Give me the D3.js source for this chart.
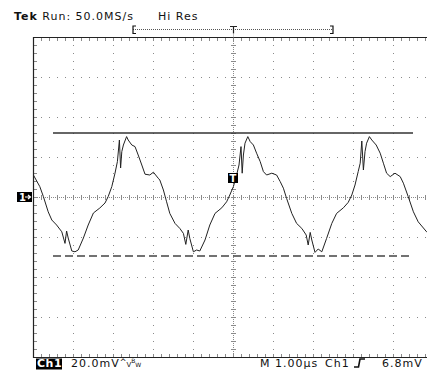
<!DOCTYPE html>
<html><head><meta charset="utf-8">
<script src="https://cdn.jsdelivr.net/npm/d3@7"></script>
<style>
html,body{margin:0;padding:0;background:#fff;}
svg{display:block;}
text{font-family:"DejaVu Sans",sans-serif;}
</style></head>
<body><svg id="c" width="427" height="370"></svg>
<script>
// ---- data (time in µs relative to trigger, voltage in mV) ----
const timeUs = [-4.99,-4.83,-4.74,-4.62,-4.53,-4.41,-4.28,-4.20,-4.16,-4.12,-4.03,-3.95,-3.87,-3.74,-3.62,-3.49,-3.33,-3.20,-3.12,-3.03,-2.95,-2.89,-2.84,-2.81,-2.78,-2.74,-2.66,-2.62,-2.53,-2.45,-2.37,-2.28,-2.20,-2.08,-1.99,-1.87,-1.83,-1.74,-1.66,-1.58,-1.45,-1.33,-1.24,-1.18,-1.12,-1.08,-0.99,-0.91,-0.83,-0.70,-0.58,-0.45,-0.28,-0.16,-0.08,0.01,0.09,0.15,0.20,0.23,0.26,0.30,0.37,0.43,0.51,0.59,0.68,0.76,0.84,0.97,1.09,1.18,1.26,1.34,1.47,1.59,1.72,1.83,1.88,1.93,1.97,2.05,2.13,2.22,2.34,2.47,2.59,2.76,2.88,2.97,3.05,3.13,3.18,3.22,3.26,3.30,3.34,3.41,3.47,3.58,3.68,3.76,3.84,3.93,4.05,4.18,4.26,4.38,4.51,4.63,4.84,5.00];
const traceMv = [11.0,5.2,0.2,-7.4,-11.5,-14.0,-17.4,-23.2,-17.0,-20.5,-27.0,-27.4,-26.5,-20.5,-14.0,-8.0,-5.5,-3.0,0.2,5.2,11.9,17.7,28.5,14.5,22.7,26.0,30.2,28.5,26.0,25.2,21.0,16.0,11.4,11.0,12.4,9.4,8.5,3.5,-2.4,-8.2,-13.2,-15.7,-18.2,-23.7,-16.5,-20.7,-27.4,-26.5,-27.0,-21.5,-14.0,-8.2,-5.4,-2.4,1.0,5.2,11.0,16.0,25.2,11.9,21.0,26.9,30.2,27.7,26.0,21.9,17.7,12.7,11.0,11.9,11.0,7.7,4.4,-0.7,-8.2,-13.2,-15.7,-19.0,-24.0,-17.7,-21.5,-27.7,-26.0,-27.4,-20.7,-13.2,-8.2,-5.4,-2.7,1.0,6.0,12.7,16.9,28.0,13.5,22.7,26.9,30.2,28.5,26.0,21.9,16.9,11.9,10.2,11.9,10.2,6.9,0.2,-7.4,-12.4,-17.4,-19.5];
const cursorLevelsMv = [32.0, -29.5];       // solid, dashed
const cursorSpanUs = [-4.5, 4.5];
const triggerMarkerMv = 9.5;
const recordWindowUs = [-2.5, 2.5];
const timeDomainUs = [-5, 5];
const voltDomainMv = [-80, 80];
const headerTexts = ["Tek", "Run: 50.0MS/s", "Hi Res"];
const footerTexts = ["Ch1", "20.0mV", "M 1.00µs", "Ch1", "6.8mV"];

// ---- layout ----
const svg = d3.select("#c");
const X0 = 33, X1 = 433, Y0 = 37, Y1 = 357;
const x = d3.scaleLinear().domain(timeDomainUs).range([X0, X1]);
const y = d3.scaleLinear().domain(voltDomainMv).range([Y1, Y0]);
const FS = 11, LS = 1;

const gGrid = svg.append("g");
const majorT = d3.range(-5, 5.001, 1);
const majorV = d3.range(-80, 80.001, 20);
const minorT = d3.range(-5, 5.001, 0.2);
const minorV = d3.range(-80, 80.001, 4);
const dotCol = "#8a8a8a";

// dotted interior major grid lines (dots at each minor step)
majorT.filter(t => t > -5 && t < 5 && t !== 0).forEach(t => {
  minorV.forEach(v => gGrid.append("rect").attr("x", Math.round(x(t))).attr("y", Math.round(y(v))).attr("width",1).attr("height",1).attr("fill",dotCol));
});
majorV.filter(v => v > -80 && v < 80 && v !== 0).forEach(v => {
  minorT.forEach(t => gGrid.append("rect").attr("x", Math.round(x(t))).attr("y", Math.round(y(v))).attr("width",1).attr("height",1).attr("fill",dotCol));
});
// center cross: dense dots + minor ticks
const cx = Math.round(x(0)), cy = Math.round(y(0));
for (let py = Y0; py <= Y1; py += 2) gGrid.append("rect").attr("x", cx).attr("y", py).attr("width",1).attr("height",1).attr("fill",dotCol);
for (let px = X0; px <= X1; px += 2) gGrid.append("rect").attr("x", px).attr("y", cy).attr("width",1).attr("height",1).attr("fill",dotCol);
minorV.forEach(v => gGrid.append("rect").attr("x", cx-2).attr("y", Math.round(y(v))).attr("width",5).attr("height",1).attr("fill",dotCol));
minorT.forEach(t => gGrid.append("rect").attr("x", Math.round(x(t))).attr("y", cy-2).attr("width",1).attr("height",5).attr("fill",dotCol));
// border ticks
minorT.forEach(t => {
  gGrid.append("rect").attr("x", Math.round(x(t))).attr("y", Y0+1).attr("width",1).attr("height",3).attr("fill",dotCol);
  gGrid.append("rect").attr("x", Math.round(x(t))).attr("y", Y1-3).attr("width",1).attr("height",3).attr("fill",dotCol);
});
minorV.forEach(v => {
  gGrid.append("rect").attr("x", X0+1).attr("y", Math.round(y(v))).attr("width",3).attr("height",1).attr("fill",dotCol);
});
// border
svg.append("path").attr("d", `M${X1+1},${Y0+0.5}H${X0+0.5}V${Y1+0.5}H${X1+1}`)
  .attr("fill","none").attr("stroke","#222").attr("stroke-width",1.2);

// cursors
svg.append("line").attr("x1", x(cursorSpanUs[0])).attr("x2", x(cursorSpanUs[1]))
  .attr("y1", y(cursorLevelsMv[0])).attr("y2", y(cursorLevelsMv[0]))
  .attr("stroke","#333").attr("stroke-width",1.3);
svg.append("line").attr("x1", x(cursorSpanUs[0])).attr("x2", x(cursorSpanUs[1]))
  .attr("y1", y(cursorLevelsMv[1])).attr("y2", y(cursorLevelsMv[1]))
  .attr("stroke","#444").attr("stroke-width",1.3).attr("stroke-dasharray","8,4");

// trace
const line = d3.line().x((d,i) => x(timeUs[i])).y((d,i) => y(traceMv[i]));
svg.append("defs").append("clipPath").attr("id","clip").append("rect")
  .attr("x", X0).attr("y", Y0).attr("width", X1-X0).attr("height", Y1-Y0);
svg.append("path").datum(traceMv).attr("d", line).attr("clip-path","url(#clip)")
  .attr("fill","none").attr("stroke","#222").attr("stroke-width",1).attr("stroke-linejoin","round");

// trigger marker
const tmx = x(0), tmy = y(triggerMarkerMv);
svg.append("rect").attr("x", tmx-5).attr("y", tmy-5).attr("width",10).attr("height",10).attr("fill","#000");
svg.append("text").attr("x", tmx).attr("y", tmy+4).attr("text-anchor","middle")
  .attr("font-size",10).attr("font-weight","bold").attr("fill","#fff").text("T");

// ground marker "1→"
const gy = y(0);
svg.append("rect").attr("x",17).attr("y",gy-5).attr("width",15).attr("height",10).attr("fill","#000");
svg.append("text").attr("x",19).attr("y",gy+4).attr("font-size",10).attr("font-weight","bold").attr("fill","#fff").text("1");
svg.append("path").attr("d",`M25,${gy}H30M28,${gy-2}L30.5,${gy}L28,${gy+2}`).attr("stroke","#fff").attr("stroke-width",1.2).attr("fill","none");

// record window indicator
const ry = 29.5;
const rx0 = x(recordWindowUs[0]), rx1 = x(recordWindowUs[1]);
svg.append("line").attr("x1", rx0).attr("x2", rx1).attr("y1", ry).attr("y2", ry)
  .attr("stroke","#555").attr("stroke-width",1).attr("stroke-dasharray","1,1");
svg.append("path").attr("d",`M${rx0+3},${ry-3.5}H${rx0}V${ry+4}H${rx0+3}`).attr("stroke","#111").attr("fill","none").attr("stroke-width",1.2);
svg.append("path").attr("d",`M${rx1-3},${ry-3.5}H${rx1}V${ry+4}H${rx1-3}`).attr("stroke","#111").attr("fill","none").attr("stroke-width",1.2);
svg.append("path").attr("d",`M${cx-3},${ry-3}H${cx+4}M${cx+0.5},${ry-3}V${ry+4}`).attr("stroke","#222").attr("fill","none").attr("stroke-width",1.2);
for (let py = ry+5; py < Y0; py += 2) svg.append("rect").attr("x",cx).attr("y",py).attr("width",1).attr("height",1).attr("fill",dotCol);

// header text
const hdr = svg.append("text").attr("x",14).attr("y",20).attr("font-size",FS).attr("letter-spacing",LS).attr("fill","#111");
hdr.append("tspan").attr("font-weight","bold").text(headerTexts[0]);
hdr.append("tspan").text(" " + headerTexts[1]);
svg.append("text").attr("x",158).attr("y",20).attr("font-size",FS).attr("letter-spacing",LS).attr("fill","#111").text(headerTexts[2]);

// footer text
const fy = 367;
svg.append("rect").attr("x",36).attr("y",358.5).attr("width",26).attr("height",11).attr("fill","#000");
svg.append("text").attr("x",37).attr("y",fy).attr("font-size",FS).attr("font-weight","bold").attr("letter-spacing",0.5).attr("fill","#fff").text(footerTexts[0]);
const ft = svg.append("text").attr("x",71).attr("y",fy).attr("font-size",FS).attr("letter-spacing",LS).attr("fill","#111");
ft.append("tspan").text(footerTexts[1]);
ft.append("tspan").attr("font-size",8).attr("letter-spacing",0).attr("dy",-2).text("^");
ft.append("tspan").attr("font-size",7).attr("letter-spacing",0).attr("dy",2).text("V");
ft.append("tspan").attr("font-size",6).attr("letter-spacing",0).attr("dy",-4).text("B");
ft.append("tspan").attr("font-size",6).attr("letter-spacing",0).attr("dy",4).text("W");
svg.append("text").attr("x",260).attr("y",fy).attr("font-size",FS).attr("letter-spacing",LS).attr("fill","#111").text(footerTexts[2]);
svg.append("text").attr("x",325).attr("y",fy).attr("font-size",FS).attr("letter-spacing",LS).attr("fill","#111").text(footerTexts[3]);
svg.append("path").attr("d",`M354,${fy}H358.5L360,${fy-8}H365`).attr("stroke","#111").attr("fill","none").attr("stroke-width",1.6);
svg.append("text").attr("x",382).attr("y",fy).attr("font-size",FS).attr("letter-spacing",LS).attr("fill","#111").text(footerTexts[4]);
</script></body></html>
